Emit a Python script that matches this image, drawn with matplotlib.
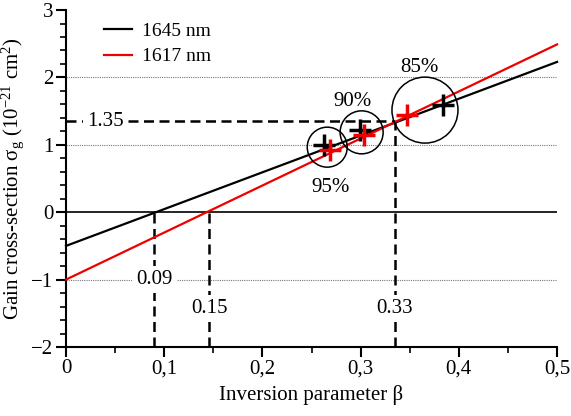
import matplotlib
matplotlib.use("Agg")
import matplotlib.pyplot as plt
from matplotlib.patches import Ellipse

plt.rcParams['font.family'] = ['Liberation Serif', 'DejaVu Serif']
plt.rcParams['mathtext.fontset'] = 'custom'
plt.rcParams['mathtext.rm'] = 'Liberation Serif'
plt.rcParams['mathtext.it'] = 'Liberation Serif:italic'

# Data
beta_fit = [0.0, 0.5]
fit_1645 = [-0.5, 2.23]
fit_1617 = [-1.0, 2.49]
beta_1645 = [0.263, 0.299, 0.384]
sigma_1645 = [1.00, 1.22, 1.59]
beta_1617 = [0.269, 0.303, 0.347]
sigma_1617 = [0.93, 1.15, 1.44]
purity_labels = ['95%', '90%', '85%']
zero_cross = [0.09, 0.146]
zero_labels = ['0.09', '0.15']
cross_beta = 0.335
cross_sigma = 1.35
xticks = [0, 0.1, 0.2, 0.3, 0.4, 0.5]
xticklabels = ['0', '0,1', '0,2', '0,3', '0,4', '0,5']
yticks = [-2, -1, 0, 1, 2, 3]
yticklabels = ['\u22122', '\u22121', '0', '1', '2', '3']

fig = plt.figure(figsize=(5.71, 4.16), dpi=100)
ax = fig.add_axes([0.1156, 0.1659, 0.86, 0.81])
ax.set_xlim(0, 0.5)
ax.set_ylim(-2, 3)

# grid dotted lines
for yv in [-1, 1, 2]:
    ax.axhline(yv, color='#777777', lw=0.8, ls=(0, (1, 1)), zorder=1)
ax.axhline(0, color='black', lw=1.2, zorder=2)

# dashed guide lines
dash = (0, (4, 2.2))
for xv in zero_cross:
    ax.plot([xv, xv], [-2, 0], color='black', lw=1.8, ls=dash, zorder=2)
ax.plot([cross_beta, cross_beta], [-2, cross_sigma], color='black', lw=1.8, ls=dash, zorder=2)
ax.plot([0, cross_beta], [cross_sigma, cross_sigma], color='black', lw=1.8, ls=dash, zorder=2)

# fit lines
ax.plot(beta_fit, fit_1645, color='black', lw=1.6, label='1645 nm', zorder=3, clip_on=False)
ax.plot(beta_fit, fit_1617, color='#ee0000', lw=1.6, label='1617 nm', zorder=3, clip_on=False)

# markers
ax.plot(beta_1645, sigma_1645, ls='none', marker='+', ms=16, mew=2.5, color='black', zorder=4)
ax.plot(beta_1617, sigma_1617, ls='none', marker='+', ms=16, mew=2.5, color='#ee0000', zorder=5)

# circles around pairs (pixel-size converted to data units)
xpp = 0.5 / 491.0
ypp = 5.0 / 337.0
circ_sizes = [40, 43, 66]
for i in range(3):
    cx = (beta_1645[i] + beta_1617[i]) / 2
    cy = (sigma_1645[i] + sigma_1617[i]) / 2
    d = circ_sizes[i]
    ax.add_patch(Ellipse((cx, cy), d * xpp, d * ypp, fill=False, ec='black', lw=1.1, zorder=6))

# purity labels
ax.text(0.269, 0.36, purity_labels[0], ha='center', va='center', fontsize=15)
ax.text(0.292, 1.64, purity_labels[1], ha='center', va='center', fontsize=15)
ax.text(0.36, 2.15, purity_labels[2], ha='center', va='center', fontsize=15)

bbox = dict(facecolor='white', edgecolor='none', pad=3)
ax.text(zero_cross[0], -1.0, zero_labels[0], ha='center', va='center', fontsize=15, bbox=bbox, zorder=7)
ax.text(zero_cross[1], -1.43, zero_labels[1], ha='center', va='center', fontsize=15, bbox=bbox, zorder=7)
ax.text(cross_beta, -1.43, '0.33', ha='center', va='center', fontsize=15, bbox=bbox, zorder=7)
ax.text(0.04, cross_sigma, '1.35', ha='center', va='center', fontsize=15, bbox=bbox, zorder=7)

# axes style
for s in ['top', 'right']:
    ax.spines[s].set_visible(False)
for s in ['left', 'bottom']:
    ax.spines[s].set_linewidth(1.5)
ax.set_xticks(xticks)
ax.set_xticklabels(xticklabels)
ax.set_yticks(yticks)
ax.set_yticklabels(yticklabels)
ax.set_xticks([0.05, 0.15, 0.25, 0.35, 0.45], minor=True)
ax.set_yticks([v / 5 for v in range(-10, 16) if v % 5 != 0], minor=True)
ax.tick_params(axis='both', which='major', direction='out', length=7, width=1.5, labelsize=15, pad=2)
ax.tick_params(axis='both', which='minor', direction='out', length=4, width=1.2)

ax.set_xlabel('Inversion parameter \u03b2', fontsize=15, labelpad=5)
ax.set_ylabel('Gain cross-section \u03c3$_\\mathrm{g}$ (10$^{-21}$ cm$^2$)', fontsize=15, labelpad=4)

leg = ax.legend(loc='upper left', frameon=False, fontsize=14, handlelength=1.4,
                bbox_to_anchor=(0.078, 0.963), borderaxespad=0, borderpad=0,
                labelspacing=0.4, handletextpad=0.55)

fig.savefig('out.png', dpi=100)
